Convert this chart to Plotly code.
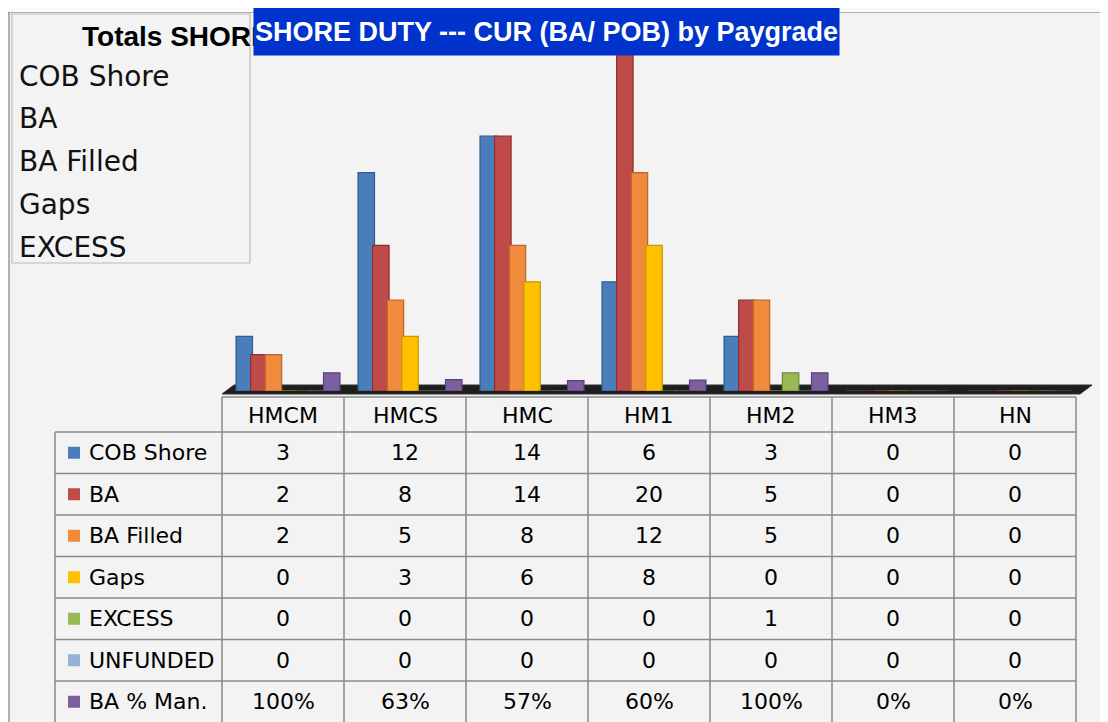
import plotly.graph_objects as go

# ---------------- data ----------------
categories = ["HMCM", "HMCS", "HMC", "HM1", "HM2", "HM3", "HN"]
series_names = ["COB Shore", "BA", "BA Filled", "Gaps", "EXCESS", "UNFUNDED", "BA % Man."]
cob_shore = [3, 12, 14, 6, 3, 0, 0]
ba = [2, 8, 14, 20, 5, 0, 0]
ba_filled = [2, 5, 8, 12, 5, 0, 0]
gaps = [0, 3, 6, 8, 0, 0, 0]
excess = [0, 0, 0, 0, 1, 0, 0]
unfunded = [0, 0, 0, 0, 0, 0, 0]
ba_pct_man = [1.00, 0.63, 0.57, 0.60, 1.00, 0, 0]
legend_items = ["COB Shore", "BA", "BA Filled", "Gaps", "EXCESS"]
title_text = "SHORE DUTY --- CUR (BA/ POB) by Paygrade"
legend_title = "Totals SHORE"

colors = ["#4a7ebb", "#be4b48", "#f08a3c", "#ffc000", "#98b954", "#95b3d7", "#7d5fa0"]
edge = ["#2f5d92", "#8f302e", "#b8642a", "#c99600", "#6d8a37", "#6b8bb3", "#5a3f7c"]

values = [cob_shore, ba, ba_filled, gaps, excess, unfunded, ba_pct_man]

# page has an 8px body margin; the figure starts at (8, 8)
OFF_X, OFF_Y = 8, 8
W, H = 1100, 714
BG = "#f3f3f3"
GRID = "#8a8a8a"


def px(x):
    return (x - OFF_X) / W


def py(y):
    return 1 - (y - OFF_Y) / H


fig = go.Figure()

bar_w = 0.135
step = 0.1195
start = -0.385
for i, (name, vals) in enumerate(zip(series_names, values)):
    fig.add_trace(go.Bar(
        x=categories, y=vals, name=name,
        width=bar_w, offset=start + i * step,
        marker=dict(color=colors[i], line=dict(color=edge[i], width=1.2)),
        showlegend=False,
    ))

col_left, col_right = 222, 1076
base_y, top_y = 391, 27

fig.update_layout(
    width=W, height=H,
    margin=dict(l=0, r=0, t=0, b=0),
    paper_bgcolor=BG, plot_bgcolor="rgba(0,0,0,0)",
    barmode="overlay",
    xaxis=dict(domain=[px(col_left), px(col_right)], range=[-0.5, 6.5],
               showticklabels=False, showgrid=False, zeroline=False, ticks="",
               showline=False, fixedrange=True),
    yaxis=dict(domain=[py(base_y), py(top_y)], range=[0, 20],
               showticklabels=False, showgrid=False, zeroline=False, ticks="",
               showline=False, fixedrange=True),
    font=dict(family="DejaVu Sans", color="#000"),
)

shapes = []
annotations = []

# outer border
shapes.append(dict(type="line", xref="paper", yref="paper", x0=0, x1=1, y0=py(12), y1=py(12),
                   line=dict(color="#9a9a9a", width=1.5), layer="below"))
shapes.append(dict(type="rect", xref="paper", yref="paper", x0=0, x1=1, y0=py(12), y1=1,
                   fillcolor="#fafafa", line=dict(width=0), layer="below"))
shapes.append(dict(type="line", xref="paper", yref="paper", x0=px(9), x1=px(9), y0=py(12), y1=0,
                   line=dict(color="#9a9a9a", width=1.5), layer="below"))

# floor of the 3D chart
floor_path = "M {},{} L {},{} L {},{} L {},{} Z".format(
    px(222), py(394), px(1080), py(394), px(1092), py(385), px(234), py(385))
shapes.append(dict(type="path", xref="paper", yref="paper", path=floor_path,
                   fillcolor="#1e1e1e", line=dict(color="#333", width=1), layer="below"))

# legend box
shapes.append(dict(type="rect", xref="paper", yref="paper", x0=px(12), x1=px(250),
                   y0=py(263), y1=py(14), fillcolor=BG, line=dict(color="#bcbcbc", width=1.2),
                   layer="above"))
annotations.append(dict(xref="paper", yref="paper", x=px(80), y=py(37), xanchor="left",
                        yanchor="middle", showarrow=False, text="<b>" + legend_title + "</b>",
                        font=dict(family="Liberation Sans", size=28, color="#000")))
for i, item in enumerate(legend_items):
    annotations.append(dict(xref="paper", yref="paper", x=px(17), y=py(76 + i * 42.8),
                            xanchor="left", yanchor="middle", showarrow=False, text=item,
                            font=dict(family="DejaVu Sans", size=28, color="#111")))

# data table
header_top = 397
row_top0 = 432
row_h = 41.5
label_left = 55
col_w = (col_right - col_left) / len(categories)

shapes.append(dict(type="line", xref="paper", yref="paper", x0=px(col_left), x1=px(col_right),
                   y0=py(header_top), y1=py(header_top), line=dict(color=GRID, width=1.5)))
for j in range(len(categories) + 1):
    xx = col_left + j * col_w
    shapes.append(dict(type="line", xref="paper", yref="paper", x0=px(xx), x1=px(xx),
                       y0=py(header_top), y1=0, line=dict(color=GRID, width=1.5)))
for r in range(len(series_names)):
    yy = row_top0 + r * row_h
    shapes.append(dict(type="line", xref="paper", yref="paper", x0=px(label_left), x1=px(col_right),
                       y0=py(yy), y1=py(yy), line=dict(color=GRID, width=1.5)))
shapes.append(dict(type="line", xref="paper", yref="paper", x0=px(label_left), x1=px(label_left),
                   y0=py(row_top0), y1=0, line=dict(color=GRID, width=1.5)))

for c in categories:
    annotations.append(dict(xref="x", yref="paper", x=c, y=py((header_top + row_top0) / 2 + 1),
                            xanchor="center", yanchor="middle", showarrow=False, text=c,
                            font=dict(family="DejaVu Sans", size=22, color="#000")))

for r, (name, vals) in enumerate(zip(series_names, values)):
    cy = row_top0 + r * row_h + row_h / 2
    shapes.append(dict(type="rect", xref="paper", yref="paper", x0=px(68), x1=px(80),
                       y0=py(cy + 6), y1=py(cy - 6), fillcolor=colors[r], line=dict(width=0)))
    annotations.append(dict(xref="paper", yref="paper", x=px(87), y=py(cy), xanchor="left",
                            yanchor="middle", showarrow=False, text=name,
                            font=dict(family="DejaVu Sans", size=22, color="#000")))
    for c, v in zip(categories, vals):
        txt = f"{round(v * 100)}%" if name == "BA % Man." else f"{v}"
        annotations.append(dict(xref="x", yref="paper", x=c, y=py(cy), xanchor="center",
                                yanchor="middle", showarrow=False, text=txt,
                                font=dict(family="DejaVu Sans", size=22, color="#000")))

# title box (drawn last so it covers the legend title)
annotations.append(dict(xref="paper", yref="paper", x=px(253), y=py(7), xanchor="left",
                        yanchor="top", showarrow=False, text="<b>" + title_text + "</b>",
                        width=583, height=45, align="center", valign="middle",
                        bgcolor="#0033cc", borderpad=1,
                        font=dict(family="Liberation Sans", size=27, color="#ffffff")))

fig.update_layout(shapes=shapes, annotations=annotations)
fig.write_html("out.html")
